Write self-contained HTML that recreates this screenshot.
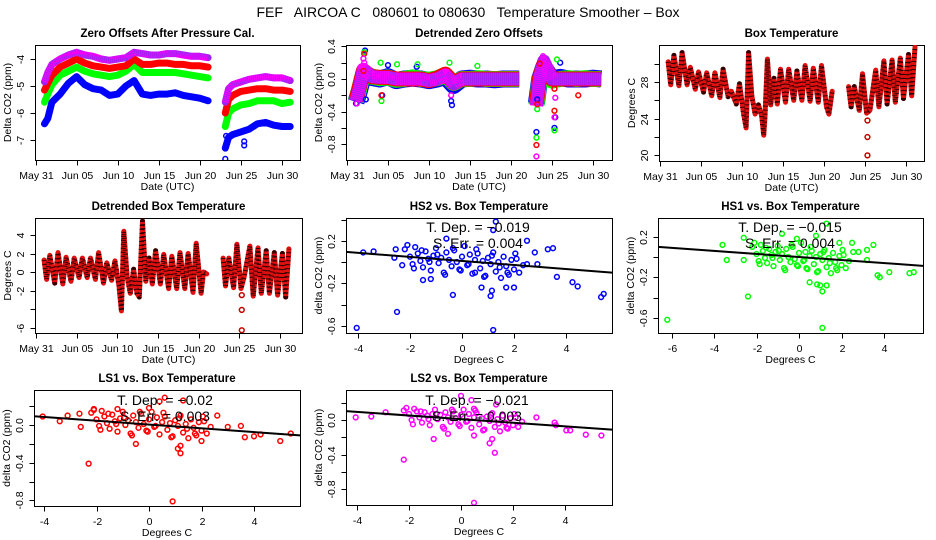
<!DOCTYPE html>
<html><head><meta charset="utf-8"><style>
html,body{margin:0;padding:0;background:#fff}
svg{display:block;font-family:"Liberation Sans",Arial,sans-serif}
</style></head><body>
<svg id="chart" width="936" height="540" viewBox="0 0 936 540" xmlns="http://www.w3.org/2000/svg">
<text x="468" y="17" text-anchor="middle" font-size="14" xml:space="preserve">FEF   AIRCOA C   080601 to 080630   Temperature Smoother – Box</text>
</svg>
<script>
// ---------- DATA ----------
const dayTicks = [0,5,10,15,20,25,30];
const dayTickLabels = ["May 31","Jun 05","Jun 10","Jun 15","Jun 20","Jun 25","Jun 30"];
// Panel 1: zero offsets after pressure cal
const timeSegA = [1.1,1.5,2,3,4,5,6,7,8,9,10,11,12,13,14,15,16,17,18,19,20,21];
const timeSegB = [23.1,23.5,24,25,26,27,28,29,30,31];
const ls2OffA = [-4.85,-4.5,-4.2,-4.0,-3.85,-3.75,-3.85,-3.9,-4.0,-4.05,-4.0,-3.95,-3.75,-3.8,-3.85,-3.85,-3.8,-3.8,-3.85,-3.9,-3.9,-3.95];
const ls2OffB = [-5.6,-5.1,-4.95,-4.85,-4.75,-4.7,-4.65,-4.7,-4.7,-4.8];
const ls1OffA = [-5.15,-4.9,-4.6,-4.3,-4.15,-4.0,-4.15,-4.25,-4.3,-4.35,-4.3,-4.25,-4.0,-4.2,-4.2,-4.15,-4.15,-4.2,-4.2,-4.25,-4.25,-4.3];
const ls1OffB = [-6.0,-5.5,-5.35,-5.2,-5.15,-5.1,-5.1,-5.15,-5.15,-5.2];
const hs1OffA = [-5.6,-5.3,-4.95,-4.6,-4.45,-4.3,-4.45,-4.55,-4.6,-4.65,-4.6,-4.45,-4.2,-4.5,-4.5,-4.5,-4.5,-4.5,-4.55,-4.6,-4.65,-4.7];
const hs1OffB = [-6.5,-6.0,-5.85,-5.7,-5.65,-5.55,-5.55,-5.55,-5.65,-5.6];
const hs2OffA = [-6.4,-6.2,-5.6,-5.3,-4.9,-4.65,-4.95,-5.1,-5.15,-5.35,-5.3,-5.0,-4.8,-5.3,-5.35,-5.3,-5.3,-5.25,-5.35,-5.4,-5.45,-5.55];
const hs2OffB = [-7.3,-6.9,-6.8,-6.7,-6.6,-6.4,-6.35,-6.45,-6.5,-6.5];
const p1OutT = [23.1,25.4,25.4,23.2];
const p1OutV = [-7.7,-7.2,-7.05,-6.85];
// Panel 2: detrended zero offsets (band centres + outliers)
const detHs2A = [-0.28,-0.15,0.05,0.02,0.0,0.03,-0.02,0.0,0.01,0.0,-0.02,0.0,0.03,-0.08,0.0,0.01,0.0,0.0,-0.01,0.0,0.0,0.0];
const detHs2B = [-0.3,0.0,0.15,0.0,0.02,0.0,0.0,0.0,0.01,0.0];
const detHs1A = [-0.27,-0.12,0.08,0.03,0.01,0.02,-0.01,0.0,0.02,0.0,-0.01,0.01,0.05,-0.05,0.0,0.0,0.01,0.0,0.0,0.0,0.0,0.0];
const detHs1B = [-0.32,0.0,0.15,-0.02,0.0,0.01,0.0,0.01,0.0,0.0];
const detLs1A = [-0.26,-0.1,0.1,0.03,0.02,0.02,0.0,0.0,0.0,0.0,-0.02,0.01,0.06,-0.05,0.0,0.0,0.0,0.0,0.0,0.0,0.0,0.0];
const detLs1B = [-0.3,0.02,0.18,0.0,0.0,0.0,0.0,0.0,0.0,0.0];
const detLs2A = [-0.27,-0.12,0.12,0.03,0.02,0.02,0.0,0.0,0.0,0.0,-0.02,0.0,0.05,-0.06,0.0,0.0,0.0,0.0,0.0,0.0,0.0,0.0];
const detLs2B = [-0.33,0.02,0.22,0.0,0.0,0.0,0.0,0.0,0.0,0.0];
const p2BlueT = [1.1,2.2,2.3,4.3,5.0,12.7,12.8,23.1,23.2,25.3,25.4,26,8.5];
const p2BlueV = [-0.3,0.35,-0.25,-0.2,0.17,-0.27,-0.32,-0.65,-0.25,-0.6,-0.47,0.2,0.15];
const p2GreenT = [2.1,4.2,4.1,6.1,8.6,12.5,23.1,23.2,25.3,25.6,15.9];
const p2GreenV = [0.33,-0.27,0.2,0.18,0.18,0.2,-0.72,-0.37,-0.63,0.24,0.16];
const p2RedT = [2.1,2.0,4.2,23.1,23.2,25.3,25.3,28.2,23.5];
const p2RedV = [0.31,0.1,-0.2,-0.81,-0.31,-0.39,-0.12,-0.2,0.19];
const p2PurpT = [1.2,2.1,2.0,23.1,23.9,24.0,25.3,25.4,12.7];
const p2PurpV = [-0.3,0.2,0.25,-0.95,0.28,0.25,-0.47,-0.23,-0.2];
// Panel 3: box temperature (diurnal zigzag)
const boxTempT = [1,1.3,1.7,2.3,2.7,3.3,3.7,4.3,4.7,5.3,5.7,6.3,6.7,7.3,7.7,8.3,8.7,9.3,9.7,10.2,10.5,10.8,11.2,11.6,12.0,12.4,12.65,12.8,13.1,13.5,13.9,14.3,14.7,15.3,15.7,16.3,16.7,17.3,17.7,18.3,18.7,19.3,19.7,20.3,20.6,21];
const boxTempV = [30.2,27.7,30.9,27.6,31.2,27.7,29.6,27.2,29.1,26.9,29.0,26.5,29.0,26.3,29.4,26.4,27.0,25.6,27.8,24.5,23.0,31.2,26.5,24.5,25.5,24.3,22.2,24.3,30.5,25.5,28.4,25.6,29.4,25.8,29.4,26.0,29.2,26.0,29.8,25.9,29.5,25.8,29.8,25.3,24.5,27.0];
const boxTempT2 = [23,23.3,23.7,24.3,24.7,25.2,25.6,26.3,26.7,27.3,27.7,28.3,28.7,29.3,29.7,30.3,30.7,31.1];
const boxTempV2 = [27.5,25.3,27.5,24.9,28.9,24.6,24.9,29.3,25.3,30.3,25.6,30.4,25.8,30.6,26.2,31.0,26.5,31.8];
const boxOutT = [25.3,25.3,25.3];
const boxOutV = [22.0,20.0,23.8];
// Panel 4: detrended box temperature
const detBoxT = [1,1.3,1.7,2.3,2.7,3.3,3.7,4.3,4.7,5.3,5.7,6.3,6.7,7.3,7.7,8.3,8.7,9.3,9.7,10.2,10.5,10.8,11.2,11.6,12.0,12.4,12.7,12.9,13.1,13.5,13.9,14.3,14.7,15.3,15.7,16.3,16.7,17.3,17.7,18.3,18.7,19.3,19.7,20.3,20.6,21];
const detBoxV = [1.3,-0.8,1.8,-1.2,2.1,-1.3,1.6,-1.0,1.5,-0.6,1.5,-0.6,1.5,-0.8,2.1,-1.2,1.0,-0.9,1.2,-1.5,-4.2,4.4,-0.5,-2.3,0.3,-2.3,-2.7,1.5,5.5,-1.0,1.5,-1.3,2.3,-1.3,1.9,-1.8,1.7,-1.8,2.1,-1.8,2.0,-2.2,3.1,-2.3,0.0,-0.2];
const detBoxT2 = [23,23.3,23.7,24.3,24.7,25.2,25.6,26.3,26.7,27.3,27.7,28.3,28.7,29.3,29.7,30.3,30.7,31.1];
const detBoxV2 = [1.5,-1.5,1.5,-1.7,3.0,-1.8,-0.5,2.8,-2.6,2.6,-2.3,2.3,-2.3,2.1,-2.5,2.0,-2.7,2.5];
const detBoxOutT = [25.3,25.3,25.3];
const detBoxOutV = [-2.5,-4.1,-6.3];
// Scatter panels: shared core box temperatures
const coreTemp = [-2.2,-2.0,-1.9,-1.8,-1.7,-1.6,-1.5,-1.4,-1.3,-1.2,-1.1,-1.0,-0.9,-0.8,-0.7,-0.6,-0.5,-0.4,-0.3,-0.2,-0.1,0.0,0.1,0.2,0.3,0.4,0.5,0.6,0.7,0.8,0.9,1.0,1.1,1.2,1.3,1.4,1.5,1.6,1.7,1.8,1.9,2.0,2.1,2.2,-2.1,-1.85,-1.55,-1.25,-0.95,-0.65,-0.35,-0.05,0.25,0.55,0.85,1.15,1.45,1.75,2.05,2.35];
const hs2Core = [0.12,0.05,-0.02,0.14,0.08,0.01,-0.05,0.10,0.03,-0.08,0.06,0.13,-0.01,0.04,-0.10,0.09,0.02,-0.04,0.11,0.00,-0.07,0.05,0.15,-0.03,0.07,-0.11,0.02,0.08,-0.06,0.01,-0.13,0.04,-0.02,0.09,-0.09,0.00,-0.15,0.05,-0.04,-0.12,0.02,-0.07,0.03,-0.10,0.16,-0.06,0.11,0.00,0.07,-0.12,0.13,-0.08,-0.02,0.12,-0.14,0.06,-0.05,-0.10,0.08,-0.03];
const hs1Core = [0.10,0.03,-0.04,0.12,0.06,-0.01,-0.06,0.08,0.02,-0.09,0.05,0.11,-0.03,0.03,-0.11,0.08,0.00,-0.05,0.10,-0.02,-0.08,0.04,0.14,-0.04,0.05,-0.12,0.01,0.06,-0.07,0.00,-0.14,0.03,-0.03,0.07,-0.10,-0.01,-0.16,0.04,-0.05,-0.13,0.01,-0.08,0.02,-0.11,0.14,-0.07,0.09,-0.01,0.06,-0.13,0.12,-0.09,-0.03,0.10,-0.15,0.05,-0.06,-0.11,0.07,-0.04];
const ls1Core = [0.13,0.06,-0.01,0.15,0.09,0.02,-0.04,0.11,0.04,-0.07,0.07,0.14,0.00,0.05,-0.09,0.10,0.03,-0.03,0.12,0.01,-0.06,0.06,0.14,-0.02,0.08,-0.10,0.03,0.09,-0.05,0.02,-0.12,0.05,-0.01,0.10,-0.08,0.01,-0.14,0.06,-0.03,-0.11,0.03,-0.06,0.04,-0.09,0.17,-0.05,0.12,0.01,0.08,-0.11,0.14,-0.07,-0.01,0.13,-0.13,0.07,-0.04,-0.09,0.09,-0.02];
const ls2Core = [0.11,0.07,0.00,0.13,0.10,0.03,-0.03,0.09,0.05,-0.06,0.07,0.12,0.01,0.06,-0.08,0.09,0.03,-0.02,0.10,0.02,-0.05,0.06,0.12,-0.02,0.07,-0.09,0.03,0.08,-0.05,0.02,-0.11,0.04,-0.01,0.08,-0.08,0.01,-0.13,0.05,-0.03,-0.10,0.02,-0.06,0.03,-0.08,0.14,-0.05,0.10,0.01,0.07,-0.10,0.12,-0.07,-0.01,0.11,-0.12,0.06,-0.04,-0.09,0.07,-0.02];
const hs2OutX = [-4.05,-3.8,-3.4,-2.5,-2.55,-1.5,-1.2,-0.35,-0.6,0.5,0.75,1.1,1.15,1.3,1.2,1.2,1.7,2.0,2.5,2.5,2.8,2.9,3.3,3.5,3.65,4.25,4.45,5.35,5.45,-2.6,-2.3];
const hs2OutY = [-0.62,0.09,0.10,-0.47,0.12,-0.17,-0.16,-0.31,0.22,-0.1,-0.24,-0.32,-0.27,0.38,0.30,-0.64,-0.24,-0.24,0.2,-0.02,0.09,-0.02,0.12,0.13,-0.14,-0.19,-0.23,-0.33,-0.30,0.04,-0.03];
const hs1OutX = [-6.2,-3.6,-3.4,-2.6,-2.4,-2.6,-0.8,0.35,0.5,0.85,1.0,1.1,1.1,1.3,1.3,1.9,2.5,2.55,2.8,3.2,3.2,3.5,3.7,3.8,4.25,5.2,5.4,0.8,-0.1];
const hs1OutY = [-0.62,0.12,-0.03,0.19,-0.39,-0.03,0.23,-0.11,-0.25,-0.27,-0.28,-0.34,-0.70,-0.28,0.33,0.14,0.14,0.05,0.05,0.07,-0.03,0.12,-0.18,-0.2,-0.15,-0.16,-0.15,0.21,0.18];
const ls1OutX = [-4.05,-3.4,-3.1,-2.65,-2.6,-2.3,-2.1,-1.2,-0.5,0.6,0.4,0.9,1.1,1.2,1.2,1.3,2.0,2.6,3.0,3.5,3.65,4.0,4.25,5.0,5.4,0.0];
const ls1OutY = [0.09,0.04,0.1,0.12,-0.02,-0.41,0.16,0.17,-0.2,0.29,0.25,-0.81,-0.25,-0.3,-0.22,0.26,-0.17,0.1,-0.02,-0.01,-0.13,-0.12,-0.10,-0.17,-0.09,0.18];
const ls2OutX = [-4.05,-3.45,-2.9,-2.2,-1.05,-0.5,0.0,0.4,0.5,0.5,0.5,1.1,1.3,1.2,1.35,2.9,3.6,3.65,4.05,4.2,4.8,5.4];
const ls2OutY = [0.03,0.04,0.09,-0.46,-0.22,-0.16,0.28,0.23,0.13,-0.18,-0.96,-0.27,-0.38,-0.22,0.18,0.03,-0.03,-0.06,-0.12,-0.12,-0.17,-0.18];
const fitSlopes = [-0.019,-0.015,-0.02,-0.021];
const fitIntercepts = [0.01,0.0,0.005,0.01];
const fitSlopeLabels = ["-0.019","-0.015","-0.02","-0.021"];
const fitErrLabels = ["0.004","0.004","0.003","0.003"];

// ---------- DRAWING ----------
const svg = document.getElementById('chart');
const NS = 'http://www.w3.org/2000/svg';
function mk(tag, attrs, parent){
  const e = document.createElementNS(NS, tag);
  for (const k in attrs) e.setAttribute(k, attrs[k]);
  (parent||svg).appendChild(e);
  return e;
}
function lin(d0,d1,r0,r1){ return v => r0 + (v-d0)*(r1-r0)/(d1-d0); }

function panel(p){
  const g = mk('g', {});
  
  
  const box = mk('rect', {x:p.L+0.5, y:p.T+0.5, width:p.R-p.L, height:p.B-p.T, fill:'none', stroke:'#000', 'stroke-width':1}, g);
  
  
  const t = mk('text', {x:(p.L+p.R)/2, y:p.T-8, 'text-anchor':'middle', 'font-size':11.5, 'font-weight':'bold'}, g);
  t.textContent = p.title;
  
  
  const yb = p.B + 0.5;
  p.xTicks.forEach((v,i)=>{
    const x = Math.round(p.xs(v)) + 0.5;
    mk('line', {x1:x, x2:x, y1:yb, y2:yb+5, stroke:'#000'}, g);
    const tl = mk('text', {x:x, y:p.B+19, 'text-anchor':'middle', 'font-size':10.5}, g);
    tl.textContent = p.xLabels[i];
    
    
  });
  const xt = mk('text', {x:(p.L+p.R)/2, y:p.B+30, 'text-anchor':'middle', 'font-size':10.5}, g);
  xt.textContent = p.xTitle;
  
  
  const xl = p.L + 0.5;
  p.yTicks.forEach((v,i)=>{
    const y = Math.round(p.ys(v)) + 0.5;
    mk('line', {x1:xl, x2:xl-5, y1:y, y2:y, stroke:'#000'}, g);
    if (p.yLabels[i] !== '') {
      const tl = mk('text', {x:p.L-11, y:y, 'text-anchor':'middle', 'font-size':10.5, transform:`rotate(-90 ${p.L-11} ${y})`}, g);
      tl.textContent = p.yLabels[i];
      
      
    }
  });
  const yx = p.L-24, yy = (p.T+p.B)/2;
  const yt = mk('text', {x:yx, y:yy, 'text-anchor':'middle', 'font-size':10.5, transform:`rotate(-90 ${yx} ${yy})`}, g);
  yt.textContent = p.yTitle;
  
  
  const clipId = 'c'+Math.round(p.L)+'_'+Math.round(p.T);
  const cp = mk('clipPath', {id:clipId}, g);
  mk('rect', {x:p.L, y:p.T, width:p.R-p.L, height:p.B-p.T}, cp);
  const plot = mk('g', {'clip-path':`url(#${clipId})`}, g);
  
  
  p.plot = plot;
  return p;
}
function line(p, xs, ys, color, w, name, cap){
  const pts = xs.map((x,i)=>p.xs(x).toFixed(1)+','+p.ys(ys[i]).toFixed(1)).join(' ');
  const e = mk('polyline', {points:pts, fill:'none', stroke:color, 'stroke-width':w, 'stroke-linejoin':'round', 'stroke-linecap':cap||'round'}, p.plot);
  
  
  return e;
}
function pts(p, xs, ys, color, name){
  xs.forEach((x,i)=>{
    const c = mk('circle', {cx:p.xs(x), cy:p.ys(ys[i]), r:2.4, fill:'none', stroke:color, 'stroke-width':1.5}, p.plot);
    
    
  });
}
const BLUE='#0000ff', GREEN='#00ff00', RED='#ff0000', PURP='#a020f0', MAG='#ff00ff';

// Panel 1
const p1 = panel({name:'zero-offsets-panel', L:35, R:300, T:45, B:160, title:'Zero Offsets After Pressure Cal.',
  xs:lin(0,30,35.5,282), ys:lin(-4,-7,59,140), xTicks:dayTicks, xLabels:dayTickLabels, xTitle:'Date (UTC)',
  yTicks:[-7,-6,-5,-4], yLabels:['-7','-6','-5','-4'], yTitle:'Delta CO2 (ppm)'});
[[hs2OffA,hs2OffB,BLUE,'hs2-offset-series'],[hs1OffA,hs1OffB,GREEN,'hs1-offset-series'],[ls1OffA,ls1OffB,RED,'ls1-offset-series'],[ls2OffA,ls2OffB,PURP,'ls2-offset-series']].forEach(s=>{
  line(p1, timeSegA, s[0], s[2], 7, s[3]);
  line(p1, timeSegB, s[1], s[2], 7, s[3]);
  if (s[2]===PURP){ const a=line(p1,timeSegA,s[0],MAG,7,s[3]+'-texture','butt'); a.setAttribute('stroke-dasharray','1 1');
    const b=line(p1,timeSegB,s[1],MAG,7,s[3]+'-texture','butt'); b.setAttribute('stroke-dasharray','1 1'); }
});
pts(p1, p1OutT, p1OutV, BLUE, 'hs2-offset-outlier');

// Panel 2
const p2 = panel({name:'detrended-zero-offsets-panel', L:346, R:612, T:45, B:160, title:'Detrended Zero Offsets',
  xs:lin(0,30,347,593), ys:lin(0,-0.4,79,111.6), xTicks:dayTicks, xLabels:dayTickLabels, xTitle:'Date (UTC)',
  yTicks:[0.4,0.2,0,-0.2,-0.4,-0.6,-0.8], yLabels:['0.4','','0.0','','-0.4','','-0.8'], yTitle:'Delta CO2 (ppm)'});
[[detHs2A,detHs2B,BLUE,'hs2-detrended-series',17],[detHs1A,detHs1B,GREEN,'hs1-detrended-series',16],[detLs1A,detLs1B,RED,'ls1-detrended-series',15],[detLs2A,detLs2B,PURP,'ls2-detrended-series',13]].forEach(s=>{
  line(p2, timeSegA, s[0], s[2], s[4], s[3], 'butt');
  line(p2, timeSegB, s[1], s[2], s[4], s[3], 'butt');
});
{ const a=line(p2,timeSegA,detLs2A,MAG,13,'ls2-detrended-texture','butt'); a.setAttribute('stroke-dasharray','1 1');
  const b=line(p2,timeSegB,detLs2B,MAG,13,'ls2-detrended-texture','butt'); b.setAttribute('stroke-dasharray','1 1'); }
pts(p2, p2BlueT, p2BlueV, BLUE, 'hs2-detrended-point');
pts(p2, p2GreenT, p2GreenV, GREEN, 'hs1-detrended-point');
pts(p2, p2RedT, p2RedV, RED, 'ls1-detrended-point');
pts(p2, p2PurpT, p2PurpV, MAG, 'ls2-detrended-point');

// Panel 3
const p3 = panel({name:'box-temperature-panel', L:659, R:924, T:45, B:161, title:'Box Temperature',
  xs:lin(0,30,660,906), ys:lin(28,20,82,155.4), xTicks:dayTicks, xLabels:dayTickLabels, xTitle:'Date (UTC)',
  yTicks:[20,22,24,26,28,30], yLabels:['20','','24','','28',''], yTitle:'Degrees C'});
[[boxTempT,boxTempV],[boxTempT2,boxTempV2]].forEach(s=>{
  line(p3, s[0], s[1], '#e01010', 5, 'box-temperature-series');
  const d = line(p3, s[0], s[1], '#300000', 5, 'box-temperature-texture', 'butt'); d.setAttribute('stroke-dasharray','1 3');
});
pts(p3, boxOutT, boxOutV, '#c00000', 'box-temperature-outlier');

// Panel 4
const p4 = panel({name:'detrended-box-temperature-panel', L:35, R:302, T:218, B:333, title:'Detrended Box Temperature',
  xs:lin(0,30,36,280), ys:lin(0,2,272,253.5), xTicks:dayTicks, xLabels:dayTickLabels, xTitle:'Date (UTC)',
  yTicks:[-6,-4,-2,0,2,4], yLabels:['-6','','-2','0','2','4'], yTitle:'Degrees C'});
[[detBoxT,detBoxV],[detBoxT2,detBoxV2]].forEach(s=>{
  line(p4, s[0], s[1], '#e01010', 5, 'detrended-box-temperature-series');
  const d = line(p4, s[0], s[1], '#300000', 5, 'detrended-box-temperature-texture', 'butt'); d.setAttribute('stroke-dasharray','1 3');
});
pts(p4, detBoxOutT, detBoxOutV, '#c00000', 'detrended-box-temperature-outlier');

// Scatter panels
function scatter(cfg, idx, core, outX, outY, color, tx, ty){
  const p = panel(cfg);
  pts(p, coreTemp, core, color, cfg.pt);
  pts(p, outX, outY, color, cfg.pt);
  const x0 = -8, x1 = 8;
  const fl = mk('line', {x1:p.xs(x0), y1:p.ys(fitIntercepts[idx]+fitSlopes[idx]*x0), x2:p.xs(x1), y2:p.ys(fitIntercepts[idx]+fitSlopes[idx]*x1), stroke:'#000', 'stroke-width':2}, p.plot);
  
  
  const a = mk('text', {x:tx, y:ty, 'text-anchor':'middle', 'font-size':14}, svg);
  a.textContent = 'T. Dep. =  ' + fitSlopeLabels[idx].replace('-', '\u2212');
  
  
  const b = mk('text', {x:tx, y:ty+16, 'text-anchor':'middle', 'font-size':14}, svg);
  b.textContent = 'S. Err. =  ' + fitErrLabels[idx];
  
  
}
scatter({name:'hs2-vs-box-temperature-panel', pt:'hs2-point', L:346, R:612, T:218, B:333, title:'HS2 vs. Box Temperature',
  xs:lin(0,4,462,566), ys:lin(0,0.4,262,219.5), xTicks:[-4,-2,0,2,4], xLabels:['-4','-2','0','2','4'], xTitle:'Degrees C',
  yTicks:[-0.6,-0.4,-0.2,0,0.2,0.4], yLabels:['-0.6','','-0.2','','0.2',''], yTitle:'delta CO2 (ppm)'},
  0, hs2Core, hs2OutX, hs2OutY, BLUE, 478, 232);
scatter({name:'hs1-vs-box-temperature-panel', pt:'hs1-point', L:658, R:923, T:218, B:333, title:'HS1 vs. Box Temperature',
  xs:lin(0,4,799,884), ys:lin(0,0.4,257,216.5), xTicks:[-6,-4,-2,0,2,4], xLabels:['-6','-4','-2','0','2','4'], xTitle:'Degrees C',
  yTicks:[-0.6,-0.4,-0.2,0,0.2], yLabels:['-0.6','','-0.2','','0.2'], yTitle:'delta CO2 (ppm)'},
  1, hs1Core, hs1OutX, hs1OutY, GREEN, 790, 232);
scatter({name:'ls1-vs-box-temperature-panel', pt:'ls1-point', L:34, R:300, T:390, B:506, title:'LS1 vs. Box Temperature',
  xs:lin(0,4,149,254), ys:lin(0,-0.4,425,462.7), xTicks:[-4,-2,0,2,4], xLabels:['-4','-2','0','2','4'], xTitle:'Degrees C',
  yTicks:[-0.8,-0.6,-0.4,-0.2,0,0.2], yLabels:['-0.8','','-0.4','','0.0',''], yTitle:'delta CO2 (ppm)'},
  2, ls1Core, ls1OutX, ls1OutY, RED, 165, 405);
scatter({name:'ls2-vs-box-temperature-panel', pt:'ls2-point', L:346, R:612, T:390, B:505, title:'LS2 vs. Box Temperature',
  xs:lin(0,4,461,565), ys:lin(0,-0.4,420,454.5), xTicks:[-4,-2,0,2,4], xLabels:['-4','-2','0','2','4'], xTitle:'Degrees C',
  yTicks:[-0.8,-0.6,-0.4,-0.2,0,0.2], yLabels:['-0.8','','-0.4','','0.0',''], yTitle:'delta CO2 (ppm)'},
  3, ls2Core, ls2OutX, ls2OutY, MAG, 477, 405);
</script>
</body></html>
